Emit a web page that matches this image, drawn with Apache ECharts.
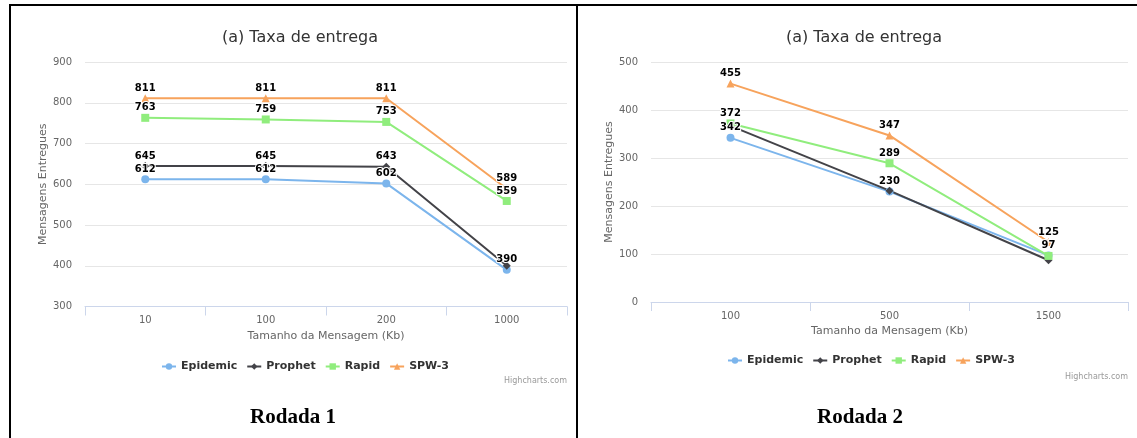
<!DOCTYPE html>
<html>
<head>
<meta charset="utf-8">
<script src="https://cdn.jsdelivr.net/npm/echarts@6/dist/echarts.min.js"></script>
<style>
  html, body { margin: 0; padding: 0; background: #ffffff; }
  #chart { width: 1137px; height: 438px; }
</style>
</head>
<body>
<div id="chart"></div>
<script>
// Rodada 1: message sizes and delivered messages per router
const sizes1 = ['10', '100', '200', '1000'];
const epidemic1 = [612, 612, 602, 390];
const prophet1 = [645, 645, 643, 400];
const rapid1 = [763, 759, 753, 559];
const spw1 = [811, 811, 811, 589];
const yTicks1 = { min: 300, max: 900, step: 100 };

// Rodada 2
const sizes2 = ['100', '500', '1500'];
const epidemic2 = [342, 230, 97];
const prophet2 = [367, 232, 87];
const rapid2 = [372, 289, 96];
const spw2 = [455, 347, 125];
const yTicks2 = { min: 0, max: 500, step: 100 };

const seriesNames = ['Epidemic', 'Prophet', 'Rapid', 'SPW-3'];

// point labels that collide with a neighbour are left out
const hiddenLabels1 = { 'Prophet': [3] };
const hiddenLabels2 = { 'Prophet': [0, 1, 2], 'Rapid': [2] };

const FONT = 'DejaVu Sans';
const styles = {
  'Epidemic': { color: '#7cb5ec', symbol: 'circle' },
  'Prophet': { color: '#434348', symbol: 'diamond' },
  'Rapid': { color: '#90ed7d', symbol: 'rect' },
  'SPW-3': { color: '#f7a35c', symbol: 'triangle' }
};

function makeSeries(name, values, axisIdx, hidden) {
  const st = styles[name];
  const skip = (hidden[name] || []);
  return {
    name: name,
    type: 'line',
    xAxisIndex: axisIdx,
    yAxisIndex: axisIdx,
    symbol: st.symbol,
    symbolSize: 8,
    showAllSymbol: true,
    animation: false,
    lineStyle: { color: st.color, width: 2 },
    itemStyle: { color: st.color, borderWidth: 0 },
    label: {
      show: true,
      position: 'top',
      distance: 1,
      fontFamily: FONT,
      fontSize: 10,
      fontWeight: 'bold',
      color: '#000000',
      textBorderColor: '#ffffff',
      textBorderWidth: 2
    },
    emphasis: { disabled: true },
    data: values.map((v, i) => skip.includes(i) ? { value: v, label: { show: false } } : v)
  };
}

function xAxis(cats, gridIndex) {
  return {
    type: 'category',
    gridIndex: gridIndex,
    data: cats,
    boundaryGap: true,
    name: 'Tamanho da Mensagem (Kb)',
    nameLocation: 'middle',
    nameGap: 24,
    nameTextStyle: { fontFamily: FONT, fontSize: 11, color: '#666666' },
    axisLine: { lineStyle: { color: '#ccd6eb', width: 1 } },
    axisTick: { show: true, length: 9, lineStyle: { color: '#ccd6eb' } },
    axisLabel: { fontFamily: FONT, fontSize: 10, color: '#666666', margin: 9 },
    splitLine: { show: false }
  };
}

function yAxis(t, gridIndex) {
  return {
    type: 'value',
    gridIndex: gridIndex,
    min: t.min,
    max: t.max,
    interval: t.step,
    name: 'Mensagens Entregues',
    nameLocation: 'middle',
    nameGap: 36,
    nameTextStyle: { fontFamily: FONT, fontSize: 11, color: '#666666' },
    axisLine: { show: false },
    axisTick: { show: false },
    axisLabel: { fontFamily: FONT, fontSize: 10, color: '#666666', margin: 13 },
    splitLine: { lineStyle: { color: '#e6e6e6', width: 1 } }
  };
}

function legend(left, top) {
  return {
    data: seriesNames,
    left: left,
    top: top,
    itemWidth: 14,
    itemHeight: 8,
    itemGap: 9,
    selectedMode: false,
    textStyle: { fontFamily: FONT, fontSize: 11, fontWeight: 'bold', color: '#333333' }
  };
}

const values1 = [epidemic1, prophet1, rapid1, spw1];
const values2 = [epidemic2, prophet2, rapid2, spw2];

const series = [];
seriesNames.forEach((n, i) => series.push(makeSeries(n, values1[i], 0, hiddenLabels1)));
seriesNames.forEach((n, i) => series.push(makeSeries(n, values2[i], 1, hiddenLabels2)));

function text(x, y, str, style) {
  return {
    type: 'text', x: x, y: y, silent: true,
    style: Object.assign({ text: str, fontFamily: FONT, verticalAlign: 'middle' }, style)
  };
}
function bar(x, y, w, h) {
  return { type: 'rect', silent: true, shape: { x: x, y: y, width: w, height: h }, style: { fill: '#000000' } };
}

const option = {
  animation: false,
  backgroundColor: '#ffffff',
  grid: [
    { left: 85, right: 570, top: 62, bottom: 131.5 },
    { left: 651, right: 9, top: 62, bottom: 136 }
  ],
  xAxis: [xAxis(sizes1, 0), xAxis(sizes2, 1)],
  yAxis: [yAxis(yTicks1, 0), yAxis(yTicks2, 1)],
  legend: [legend(156, 356), legend(722, 350)],
  tooltip: { show: false },
  series: series,
  graphic: [
    // table frame
    bar(9, 4, 1128, 2),
    bar(9, 4, 2, 434),
    bar(576, 4, 2, 434),
    // chart titles
    text(300, 38, '(a) Taxa de entrega', { fontSize: 16, fill: '#333333', align: 'center' }),
    text(864, 38, '(a) Taxa de entrega', { fontSize: 16, fill: '#333333', align: 'center' }),
    // credits
    text(567, 381, 'Highcharts.com', { fontSize: 8, fill: '#999999', align: 'right' }),
    text(1128, 377, 'Highcharts.com', { fontSize: 8, fill: '#999999', align: 'right' }),
    // captions
    text(293, 418, 'Rodada 1', { fontFamily: 'Liberation Serif', fontSize: 21, fontWeight: 'bold', fill: '#000000', align: 'center' }),
    text(860, 418, 'Rodada 2', { fontFamily: 'Liberation Serif', fontSize: 21, fontWeight: 'bold', fill: '#000000', align: 'center' })
  ]
};

const chart = echarts.init(document.getElementById('chart'), null, { renderer: 'canvas' });
chart.setOption(option);
</script>
</body>
</html>
